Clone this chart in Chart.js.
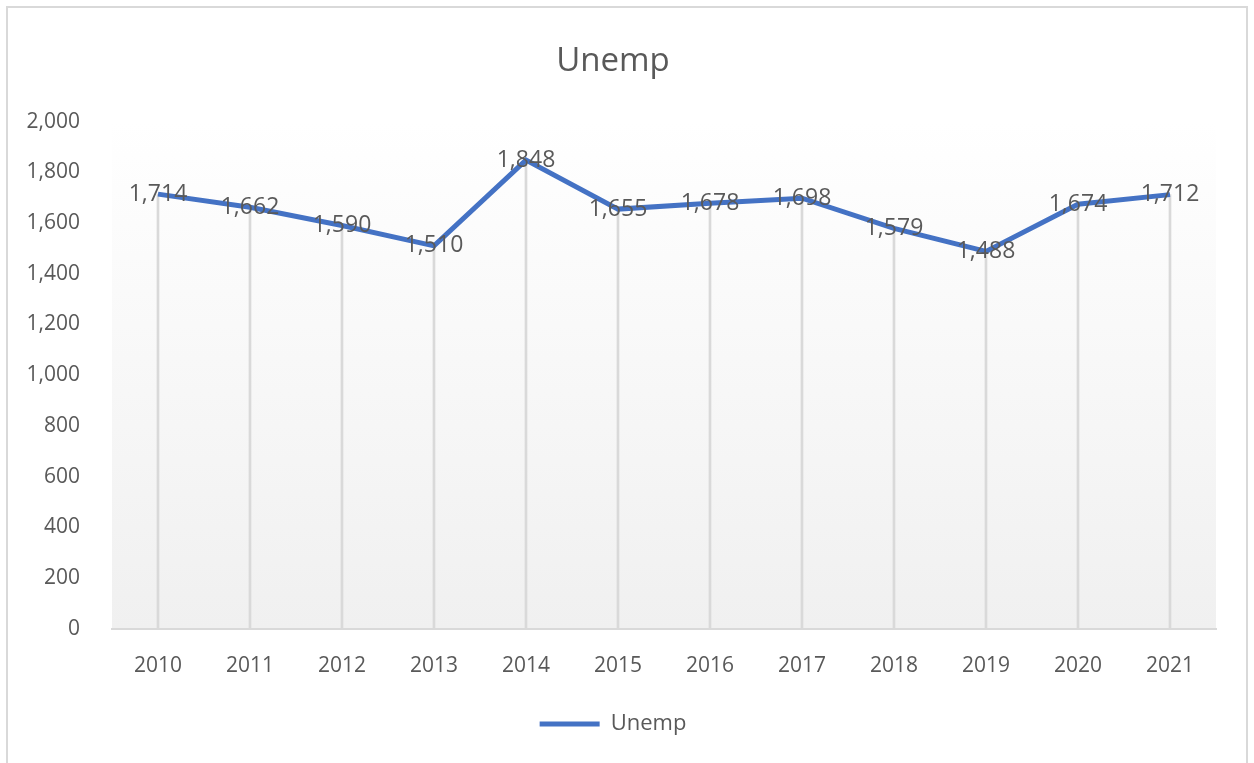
<!DOCTYPE html>
<html>
<head>
<meta charset="utf-8">
<script src="https://cdn.jsdelivr.net/npm/chart.js@4/dist/chart.umd.min.js"></script>
<style>
  body { margin:0; background:#fff; }
  #frame { position:absolute; left:6px; top:6px; width:1238px; height:800px; border:2px solid #d9d9d9; }
  #wrap { position:absolute; left:0; top:0; width:1254px; height:763px; }
</style>
</head>
<body>
<div id="frame"></div>
<div id="wrap"><canvas id="chart"></canvas></div>
<script>
// --- Data ---
const years = ['2010','2011','2012','2013','2014','2015','2016','2017','2018','2019','2020','2021'];
const unemp = [1714, 1662, 1590, 1510, 1848, 1655, 1678, 1698, 1579, 1488, 1674, 1712];
const yTicks = [0, 200, 400, 600, 800, 1000, 1200, 1400, 1600, 1800, 2000];

const textColor = '#595959';
const fontFamily = "'Open Sans', 'Noto Sans', sans-serif";

// plot area gradient
const plotBg = {
  id: 'plotBg',
  beforeDraw(chart){
    const {ctx, chartArea:a} = chart;
    const g = ctx.createLinearGradient(0, a.top, 0, a.bottom);
    g.addColorStop(0, '#ffffff');
    g.addColorStop(1, '#f0f0f0');
    ctx.save();
    ctx.fillStyle = g;
    ctx.fillRect(a.left, a.top, a.right - a.left, a.bottom - a.top);
    ctx.restore();
  }
};

// value labels centred on the line points
const valueLabels = {
  id: 'valueLabels',
  afterDatasetsDraw(chart){
    const {ctx} = chart;
    const meta = chart.getDatasetMeta(1);
    ctx.save();
    ctx.font = "23px " + fontFamily;
    ctx.fillStyle = textColor;
    ctx.textAlign = 'center';
    ctx.textBaseline = 'middle';
    meta.data.forEach((pt, i)=>{
      ctx.fillText(unemp[i].toLocaleString('en-US'), pt.x, pt.y);
    });
    ctx.restore();
  }
};

const ctx = document.getElementById('chart').getContext('2d');
new Chart(ctx, {
  data: {
    labels: years,
    datasets: [
      { // drop lines
        type: 'bar', label: 'drop', data: unemp,
        backgroundColor: '#d9d9d9', barThickness: 2, order: 2
      },
      {
        type: 'line', label: 'Unemp', data: unemp,
        borderColor: '#4472c4', backgroundColor: '#4472c4',
        borderWidth: 5, pointRadius: 0, pointStyle: 'line',
        tension: 0, order: 1
      }
    ]
  },
  options: {
    responsive: true,
    maintainAspectRatio: false,
    animation: false,
    layout: { padding: { left: 10, right: 38, top: 36, bottom: 18 } },
    plugins: {
      title: {
        display: true, text: 'Unemp', color: textColor,
        font: { family: fontFamily, size: 33, weight: 'normal' },
        padding: { top: 6, bottom: 40 }
      },
      legend: {
        position: 'bottom',
        labels: {
          filter: item => item.text !== 'drop',
          color: textColor,
          font: { family: fontFamily, size: 22 },
          usePointStyle: true,
          pointStyle: 'line',
          pointStyleWidth: 60,
          boxHeight: 5,
          padding: 17
        }
      },
      tooltip: { enabled: false }
    },
    scales: {
      x: {
        grid: { display: false },
        border: { color: '#d9d9d9', width: 2 },
        ticks: { color: textColor, font: { family: fontFamily, size: 21 }, padding: 17 }
      },
      y: {
        min: 0, max: 2000,
        afterBuildTicks(scale){ scale.ticks = yTicks.map(v=>({value:v})); },
        afterFit(scale){ scale.width = 102; },
        grid: { display: false },
        border: { display: false },
        ticks: {
          color: textColor, font: { family: fontFamily, size: 21 }, padding: 24,
          callback: v => v.toLocaleString('en-US')
        }
      }
    }
  },
  plugins: [plotBg, valueLabels]
});
</script>
</body>
</html>
